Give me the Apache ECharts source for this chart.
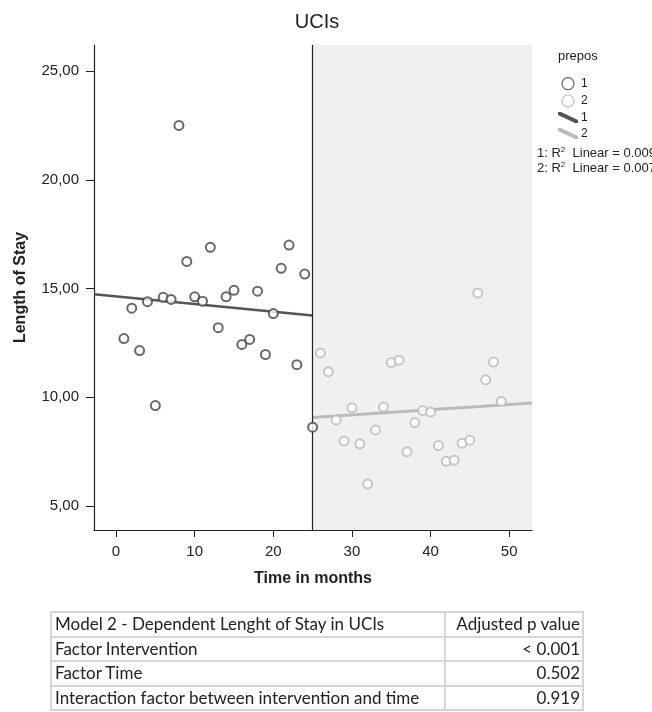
<!DOCTYPE html>
<html>
<head>
<meta charset="utf-8">
<script src="https://cdn.jsdelivr.net/npm/echarts@6/dist/echarts.min.js"></script>
<style>
  body { margin: 0; background: #fff; }
  #chart { position: absolute; left: 0; top: 0; width: 652px; height: 712px; }
  #tbl {
    position: absolute; left: 50px; top: 611px;
    border-collapse: collapse;
    font-family: Lato, "Open Sans", sans-serif; font-size: 17px; color: #222;
  }
  #tbl td { border: 2px solid #d6d6d6; height: 22.5px; padding: 0 2px 0 3px; line-height: 22px; white-space: nowrap; }
  #tbl td.c1 { width: 387px; }
  #tbl td.c2 { width: 131px; text-align: right; }
</style>
</head>
<body>
<div id="chart"></div>
<table id="tbl">
  <tr><td class="c1">Model 2 - Dependent Lenght of Stay in UCIs</td><td class="c2">Adjusted p value</td></tr>
  <tr><td class="c1">Factor Intervention</td><td class="c2">&lt; 0.001</td></tr>
  <tr><td class="c1">Factor Time</td><td class="c2">0.502</td></tr>
  <tr><td class="c1">Interaction factor between intervention and time</td><td class="c2">0.919</td></tr>
</table>
<script>
// prepos 1 (before intervention)
const months1 = [1, 2, 3, 4, 5, 6, 7, 8, 9, 10, 11, 12, 13, 14, 15, 16, 17, 18, 19, 20, 21, 22, 23, 24, 25];
const los1 = [12.7, 14.1, 12.15, 14.4, 9.62, 14.6, 14.5, 22.5, 16.25, 14.62, 14.42, 16.9, 13.2, 14.62, 14.92,
              12.43, 12.66, 14.88, 11.97, 13.85, 15.93, 17.0, 11.5, 15.67, 8.63];
// prepos 2 (after intervention)
const months2 = [26, 27, 28, 29, 30, 31, 32, 33, 34, 35, 36, 37, 38, 39, 40, 41, 42, 43, 44, 45, 46, 47, 48, 49];
const los2 = [12.04, 11.18, 8.96, 7.99, 9.52, 7.86, 6.02, 8.5, 9.55, 11.6, 11.71, 7.5, 8.84, 9.39, 9.32,
              7.78, 7.06, 7.11, 7.89, 8.03, 14.8, 10.81, 11.62, 9.81];
// linear fit lines
const fit1X = [-2.8, 25], fit1Y = [14.74, 13.76];
const fit2X = [25, 52.9], fit2Y = [9.07, 9.74];
const xTicks = [0, 10, 20, 30, 40, 50];
const yTicks = [5, 10, 15, 20, 25];
const cutMonth = 25;

const zip = (a, b) => a.map((v, i) => [v, b[i]]);
const FONT = "Arial, 'Liberation Sans', sans-serif";

let chart = echarts.init(document.getElementById("chart"));
let option = {
  animation: false,
  title: {
    text: "UCIs",
    left: 312,
    top: 7,
    textAlign: "center",
    textStyle: { fontFamily: FONT, fontSize: 20, fontWeight: "normal", color: "#222" },
  },
  grid: { left: 94, right: 120, top: 45, bottom: 182 },
  xAxis: {
    type: "value",
    min: -2.8,
    max: 52.9,
    name: "Time in months",
    nameLocation: "middle",
    nameGap: 41,
    nameTextStyle: { fontFamily: FONT, fontSize: 16, fontWeight: "bold", color: "#222" },
    splitLine: { show: false },
    axisLine: { onZero: false, lineStyle: { color: "#222", width: 1.2 } },
    axisTick: { customValues: xTicks, length: 7, lineStyle: { color: "#222" } },
    axisLabel: { customValues: xTicks, fontFamily: FONT, fontSize: 15, color: "#222", margin: 14 },
  },
  yAxis: {
    type: "value",
    min: 3.9,
    max: 26.2,
    name: "Length of Stay",
    nameLocation: "middle",
    nameGap: 65,
    nameTextStyle: { fontFamily: FONT, fontSize: 16, fontWeight: "bold", color: "#222" },
    splitLine: { show: false },
    axisLine: { show: true, onZero: false, lineStyle: { color: "#222", width: 1.2 } },
    axisTick: { show: true, customValues: yTicks, length: 8, lineStyle: { color: "#222" } },
    axisLabel: {
      customValues: yTicks,
      fontFamily: FONT, fontSize: 15, color: "#222", margin: 15,
      formatter: (v) => v.toFixed(2).replace(".", ","),
    },
  },
  legend: {
    orient: "vertical",
    left: 553,
    top: 72,
    itemWidth: 20,
    itemHeight: 12,
    itemGap: 4,
    textStyle: { fontFamily: FONT, fontSize: 12, color: "#222", padding: [0, 0, 0, -2] },
    formatter: (n) => ({ s1: "1", s2: "2", l1: "1", l2: "2" }[n]),
    data: [
      { name: "s1", icon: "circle", itemStyle: { color: "#fff", borderColor: "#444", borderWidth: 1.3 } },
      { name: "s2", icon: "circle", itemStyle: { color: "#fff", borderColor: "#bbb", borderWidth: 1.3 } },
      { name: "l1", icon: "path://M0,0 L3,0 L20,8 L20,11 L17,11 L0,3 Z", itemStyle: { color: "#555" } },
      { name: "l2", icon: "path://M0,0 L3,0 L20,8 L20,11 L17,11 L0,3 Z", itemStyle: { color: "#bbb" } },
    ],
  },
  graphic: [
    { type: "text", left: 558, top: 50, style: { text: "prepos", font: "13px Arial, 'Liberation Sans'", fill: "#222" } },
    {
      type: "text", left: 537, top: 146,
      style: {
        text: "1: R{s|2}  Linear = 0.009\n2: R{s|2}  Linear = 0.007",
        font: "13px Arial, 'Liberation Sans'", fill: "#222", lineHeight: 15,
        rich: { s: { fontSize: 8, verticalAlign: "top", lineHeight: 15 } },
      },
    },
  ],
  series: [
    {
      name: "s1",
      type: "scatter",
      symbol: "emptyCircle",
      symbolSize: 9,
      itemStyle: { color: "#444", borderColor: "#444", borderWidth: 1.3 },
      data: zip(months1, los1),
      z: 5,
    },
    {
      name: "s2",
      type: "scatter",
      symbol: "emptyCircle",
      symbolSize: 9,
      itemStyle: { color: "#bbb", borderColor: "#bbb", borderWidth: 1.3 },
      data: zip(months2, los2),
      z: 5,
      markArea: {
        silent: true,
        itemStyle: { color: "#eff0f2" },
        data: [[{ xAxis: cutMonth }, { xAxis: 52.9 }]],
      },
      markLine: {
        silent: true,
        symbol: "none",
        label: { show: false },
        lineStyle: { color: "#222", width: 1.2, type: "solid" },
        data: [{ xAxis: cutMonth }],
      },
    },
    {
      name: "l1",
      type: "line",
      symbol: "none",
      lineStyle: { color: "#555", width: 2.5 },
      data: zip(fit1X, fit1Y),
      z: 4,
    },
    {
      name: "l2",
      type: "line",
      symbol: "none",
      lineStyle: { color: "#bbb", width: 3 },
      data: zip(fit2X, fit2Y),
      z: 4,
    },
  ],
};
chart.setOption(option);
</script>
</body>
</html>
